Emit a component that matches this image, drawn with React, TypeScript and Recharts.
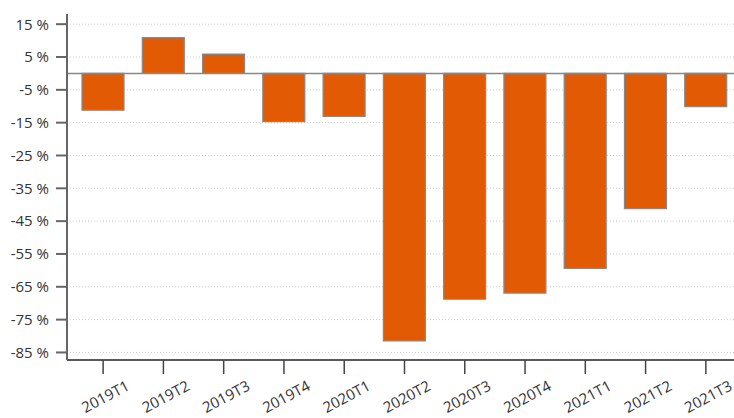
import React from "react";
import { BarChart, Bar, XAxis, YAxis, CartesianGrid, ReferenceLine } from "recharts";

// quarterly change, %
const quarters = ["2019T1", "2019T2", "2019T3", "2019T4", "2020T1", "2020T2", "2020T3", "2020T4", "2021T1", "2021T2", "2021T3"];
const changes = [-11.2, 10.9, 5.9, -14.7, -13.1, -81.5, -68.8, -66.9, -59.4, -41.2, -10.1];
const yTicks = [15, 5, -5, -15, -25, -35, -45, -55, -65, -75, -85];

const data = quarters.map((q, i) => ({ q, v: changes[i] }));

const FONT = "'Open Sans', 'Noto Sans', sans-serif";

function QuarterTick({ x, y, payload }: any) {
  return (
    <g transform={`translate(${x + 2},${y + 20})`}>
      <text x={0} y={0} textAnchor="middle" dominantBaseline="central" transform="rotate(-28)"
        fill="#333" fontSize={15} fontFamily={FONT}>
        {payload.value}
      </text>
    </g>
  );
}

export default function App() {
  return (
    <div style={{ position: "absolute", left: 0, top: 0, width: 734, height: 418, overflow: "hidden", background: "#fff" }}>
      <BarChart width={736} height={418} data={data} margin={{ top: 14, right: 0, left: 0, bottom: 0 }}>
        <CartesianGrid vertical={false} horizontalValues={yTicks} stroke="#cfcfcf" strokeDasharray="1 2" />
        <XAxis dataKey="q" height={58} padding={{ left: 6, right: 0 }} interval={0}
          axisLine={{ stroke: "#222", strokeWidth: 1.5 }} tickLine={{ stroke: "#444", strokeWidth: 1.5 }} tickSize={14}
          tick={<QuarterTick />} />
        <YAxis width={67} domain={[-87.3, 18.1]} ticks={yTicks} interval={0} allowDataOverflow
          axisLine={{ stroke: "#666", strokeWidth: 2 }} tickLine={{ stroke: "#666", strokeWidth: 2 }} tickSize={11} tickMargin={7}
          tick={{ fill: "#333", fontSize: 15, fontFamily: FONT }}
          tickFormatter={(v: number) => `${v} %`} />
        <ReferenceLine y={0} stroke="#888" strokeWidth={1.5} />
        <Bar dataKey="v" barSize={42} fill="#E35A05" stroke="#888" strokeWidth={1.2} isAnimationActive={false} />
      </BarChart>
    </div>
  );
}
